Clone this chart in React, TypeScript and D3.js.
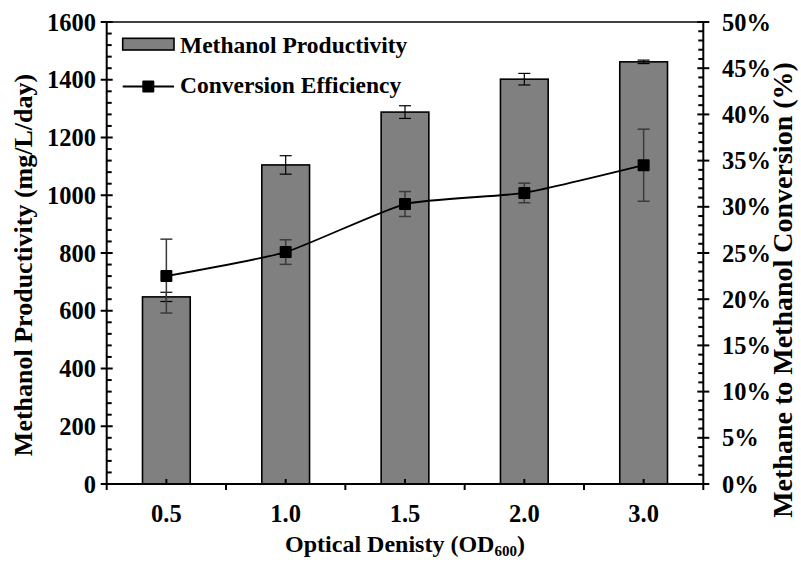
import React from 'react';
import * as d3 from 'd3';

const categories = ['0.5', '1.0', '1.5', '2.0', '3.0'];
const productivity = [648, 1105, 1288, 1402, 1462];
const productivityErr = [16, 32, 22, 20, 6];
const conversion = [22.5, 25.1, 30.3, 31.5, 34.5];
const conversionErr = [4.0, 1.33, 1.35, 1.06, 3.9];
const leftTicks = [0, 200, 400, 600, 800, 1000, 1200, 1400, 1600];
const rightTicks = [0, 5, 10, 15, 20, 25, 30, 35, 40, 45, 50];

const W = 801, H = 562;
const L = 106.7, R = 703.3, T = 22, B = 484;
const FONT = '"Liberation Serif", "Times New Roman", serif';

export default function App() {
  const x = d3.scaleBand<string>().domain(categories).range([L, R]).paddingInner(0).paddingOuter(0);
  const bw = x.bandwidth();
  const barW = bw * 0.4;
  const yL = d3.scaleLinear().domain([0, 1600]).range([B, T]);
  const yR = d3.scaleLinear().domain([0, 50]).range([B, T]);
  const cx = (c: string) => (x(c) as number) + bw / 2;

  const pts: [number, number][] = categories.map((c, i) => [cx(c), yR(conversion[i])]);
  const line = d3.line().curve(d3.curveCardinal.tension(0.5))(pts) || '';

  const leftMinor = d3.range(0, 1600, 40).filter(v => v % 200 !== 0);
  const rightMinor = d3.range(0, 50, 1).filter(v => v % 5 !== 0);
  const cap = 6;
  const fs = 24.5;

  return (
    <svg width={W} height={H} style={{ position: 'absolute', left: 0, top: 0, background: '#fff' }}
      fontFamily={FONT} fontWeight="bold">
      {/* bars */}
      {categories.map((c, i) => (
        <rect key={'b' + c} x={cx(c) - barW / 2} y={yL(productivity[i])} width={barW}
          height={B - yL(productivity[i])} fill="#808080" stroke="#000" strokeWidth={1.6} />
      ))}
      {/* bar error bars */}
      {categories.map((c, i) => {
        const y1 = yL(productivity[i] + productivityErr[i]);
        const y2 = yL(productivity[i] - productivityErr[i]);
        return (
          <g key={'be' + c} stroke="#000" strokeWidth={1.2}>
            <line x1={cx(c)} x2={cx(c)} y1={y1} y2={y2} />
            <line x1={cx(c) - cap} x2={cx(c) + cap} y1={y1} y2={y1} />
            <line x1={cx(c) - cap} x2={cx(c) + cap} y1={y2} y2={y2} />
          </g>
        );
      })}
      {/* line error bars */}
      {categories.map((c, i) => {
        const y1 = yR(conversion[i] + conversionErr[i]);
        const y2 = yR(conversion[i] - conversionErr[i]);
        return (
          <g key={'le' + c} stroke="#3a3a3a" strokeWidth={1.5}>
            <line x1={cx(c)} x2={cx(c)} y1={y1} y2={y2} />
            <line x1={cx(c) - cap} x2={cx(c) + cap} y1={y1} y2={y1} />
            <line x1={cx(c) - cap} x2={cx(c) + cap} y1={y2} y2={y2} />
          </g>
        );
      })}
      <path d={line} fill="none" stroke="#000" strokeWidth={1.8} />
      {pts.map((p, i) => (
        <rect key={'m' + i} x={p[0] - 6} y={p[1] - 6} width={12} height={12} fill="#000" rx={1} />
      ))}

      {/* frame */}
      <line x1={L} x2={R} y1={T} y2={T} stroke="#000" strokeWidth={1.5} />
      <g stroke="#000" strokeWidth={2}>
        <line x1={L} x2={L} y1={T} y2={B} />
        <line x1={R} x2={R} y1={T} y2={B} />
        <line x1={L} x2={R} y1={B} y2={B} />
        {leftTicks.map(v => <line key={'lt' + v} x1={L - 6} x2={L + 6} y1={yL(v)} y2={yL(v)} />)}
        {leftMinor.map(v => <line key={'lm' + v} x1={L} x2={L + 5} y1={yL(v)} y2={yL(v)} />)}
        {rightTicks.map(v => <line key={'rt' + v} x1={R - 6} x2={R + 6} y1={yR(v)} y2={yR(v)} />)}
        {rightMinor.map(v => <line key={'rm' + v} x1={R - 5} x2={R} y1={yR(v)} y2={yR(v)} />)}
        {d3.range(categories.length + 1).map(i => (
          <line key={'xt' + i} x1={L + i * bw} x2={L + i * bw} y1={B} y2={B + 6} />
        ))}
        {categories.map(c => <line key={'xm' + c} x1={cx(c)} x2={cx(c)} y1={B} y2={B - 5} />)}
      </g>

      {/* tick labels */}
      {leftTicks.map(v => (
        <text key={'ll' + v} x={96} y={yL(v)} dy="0.35em" textAnchor="end" fontSize={fs}>{v}</text>
      ))}
      {rightTicks.map(v => (
        <text key={'rl' + v} x={722} y={yR(v)} dy="0.35em" textAnchor="start" fontSize={fs}>{v + '%'}</text>
      ))}
      {categories.map(c => (
        <text key={'xl' + c} x={cx(c)} y={522} textAnchor="middle" fontSize={fs}>{c}</text>
      ))}

      {/* axis titles */}
      <text x={(L + R) / 2} y={552} textAnchor="middle" fontSize={24}>
        Optical Denisty (OD<tspan fontSize={15} dy={4}>600</tspan><tspan dy={-4}>)</tspan>
      </text>
      <text transform={`translate(32,265) rotate(-90)`} textAnchor="middle" fontSize={26}>
        Methanol Productivity (mg/L/day)
      </text>
      <text transform={`translate(792,290) rotate(-90)`} textAnchor="middle" fontSize={28}>
        Methane to Methanol Conversion (%)
      </text>

      {/* legend */}
      <rect x={122.7} y={38.3} width={51.3} height={11.7} fill="#808080" stroke="#000" strokeWidth={1.6} />
      <text x={180} y={53} fontSize={23.5}>Methanol Productivity</text>
      <line x1={122.7} x2={174} y1={86.5} y2={86.5} stroke="#000" strokeWidth={1.8} />
      <rect x={142.3} y={80.5} width={12} height={12} fill="#000" rx={1} />
      <text x={180} y={93} fontSize={23.5}>Conversion Efficiency</text>
    </svg>
  );
}
